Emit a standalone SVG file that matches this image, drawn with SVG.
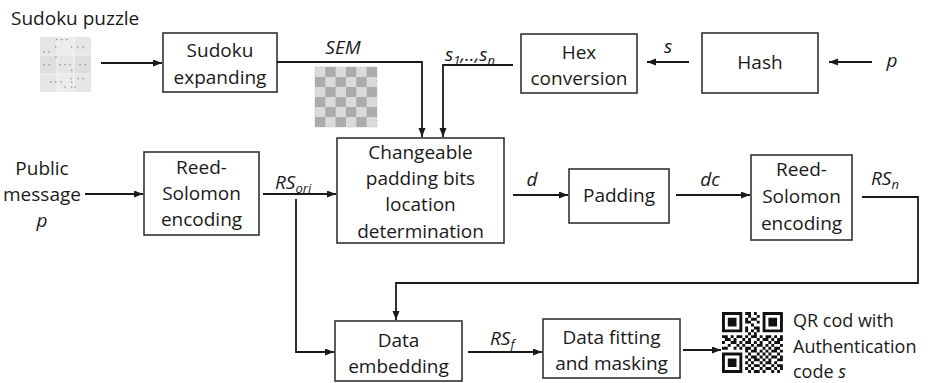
<svg xmlns="http://www.w3.org/2000/svg" width="937" height="383" viewBox="0 0 937 383">
  <style>
    text { font-family: "Open Sans", "Noto Sans", "Liberation Sans", sans-serif; font-size: 19px; fill: #1a1a1a; }
    .c { text-anchor: middle; }
    .i { font-style: italic; }
    .sub { font-size: 13px; }
    .qr-note { font-size: 18px; }
    .box { fill: #ffffff; stroke: #333333; stroke-width: 1.6; }
    .wire { fill: none; stroke: #1a1a1a; stroke-width: 1.8; marker-end: url(#arrow); }
  </style>
  <defs>
    <marker id="arrow" markerUnits="userSpaceOnUse" markerWidth="10" markerHeight="8" refX="9" refY="3.5" orient="auto">
      <path d="M0,0 L9,3.5 L0,7 z" fill="#1a1a1a"/>
    </marker>
    <path id="finder" d="M0,0h7v7h-7z M1,1v5h5v-5z M2,2h3v3h-3z" fill-rule="evenodd"/>
  </defs>

  <rect width="937" height="383" fill="#ffffff"/>

  <!-- Sudoku puzzle thumbnail -->
  <g id="sudoku-puzzle">
    <text x="11" y="25">Sudoku puzzle</text>
    <rect x="40" y="37" width="51" height="55" fill="#e6e6e6"/>
    <rect x="57" y="37" width="17" height="18" fill="#ececec"/>
    <rect x="40" y="55" width="17" height="19" fill="#dedede"/>
    <rect x="74" y="55" width="17" height="19" fill="#dedede"/>
    <rect x="57" y="74" width="17" height="18" fill="#ececec"/>
    <g stroke="#f4f4f4" stroke-width="1">
      <line x1="57" y1="37" x2="57" y2="92"/>
      <line x1="74" y1="37" x2="74" y2="92"/>
      <line x1="40" y1="55" x2="91" y2="55"/>
      <line x1="40" y1="74" x2="91" y2="74"/>
    </g>
    <g fill="#8c8c8c">
      <circle cx="56.7" cy="39.5" r="0.8"/><circle cx="61.7" cy="39.5" r="0.8"/><circle cx="66.7" cy="39.5" r="0.8"/>
      <circle cx="55.7" cy="47" r="0.8"/><circle cx="71.7" cy="47" r="0.8"/><circle cx="77.7" cy="47" r="0.8"/><circle cx="83.3" cy="47" r="0.8"/>
      <circle cx="44.3" cy="52" r="0.8"/><circle cx="49" cy="52" r="0.8"/>
      <circle cx="56" cy="57" r="0.8"/>
      <circle cx="44.3" cy="64.7" r="0.8"/><circle cx="49" cy="64.7" r="0.8"/>
      <circle cx="60" cy="64.7" r="0.8"/><circle cx="65" cy="64.7" r="0.8"/><circle cx="70" cy="64.7" r="0.8"/>
      <circle cx="80" cy="64.7" r="0.8"/><circle cx="85" cy="64.7" r="0.8"/>
      <circle cx="71.7" cy="70.3" r="0.8"/>
      <circle cx="71" cy="78.7" r="0.8"/><circle cx="78.3" cy="78.7" r="0.8"/><circle cx="83.3" cy="78.7" r="0.8"/>
      <circle cx="51" cy="82" r="0.8"/><circle cx="55.7" cy="82" r="0.8"/><circle cx="61" cy="82" r="0.8"/><circle cx="71.7" cy="82" r="0.8"/>
      <circle cx="65" cy="87" r="0.8"/><circle cx="71.7" cy="87" r="0.8"/><circle cx="75" cy="87" r="0.8"/>
    </g>
  </g>

  <!-- Expanded Sudoku matrix (SEM) thumbnail -->
  <g id="sem-matrix">
    <rect x="315" y="67" width="62" height="60" fill="#dadada" stroke="#bdbdbd" stroke-width="1" stroke-dasharray="1 1.5"/>
    <g fill="#ababab">
      <rect x="325.3" y="67" width="10.3" height="10"/><rect x="346" y="67" width="10.3" height="10"/><rect x="366.7" y="67" width="10.3" height="10"/>
      <rect x="315" y="77" width="10.3" height="10"/><rect x="335.6" y="77" width="10.3" height="10"/><rect x="356.3" y="77" width="10.3" height="10"/>
      <rect x="325.3" y="87" width="10.3" height="10"/><rect x="346" y="87" width="10.3" height="10"/><rect x="366.7" y="87" width="10.3" height="10"/>
      <rect x="315" y="97" width="10.3" height="10"/><rect x="335.6" y="97" width="10.3" height="10"/><rect x="356.3" y="97" width="10.3" height="10"/>
      <rect x="325.3" y="107" width="10.3" height="10"/><rect x="346" y="107" width="10.3" height="10"/><rect x="366.7" y="107" width="10.3" height="10"/>
      <rect x="315" y="117" width="10.3" height="10"/><rect x="335.6" y="117" width="10.3" height="10"/><rect x="356.3" y="117" width="10.3" height="10"/>
    </g>
  </g>

  <!-- Process blocks -->
  <g id="sudoku-expanding">
    <rect class="box" x="163" y="33" width="114" height="59"/>
    <text class="c" x="220" y="57">Sudoku</text>
    <text class="c" x="220" y="84">expanding</text>
  </g>

  <g id="hex-conversion">
    <rect class="box" x="521" y="34" width="116" height="59"/>
    <text class="c" x="579" y="59">Hex</text>
    <text class="c" x="579" y="85">conversion</text>
  </g>

  <g id="hash">
    <rect class="box" x="702" y="33" width="116" height="60"/>
    <text class="c" x="760" y="69">Hash</text>
  </g>

  <g id="public-message">
    <text class="c" x="42" y="175">Public</text>
    <text class="c" x="42" y="201">message</text>
    <text class="c i" x="42" y="227">p</text>
  </g>

  <g id="reed-solomon-1">
    <rect class="box" x="144" y="152" width="115" height="83"/>
    <text class="c" x="201.5" y="174">Reed-</text>
    <text class="c" x="201.5" y="200">Solomon</text>
    <text class="c" x="201.5" y="226">encoding</text>
  </g>

  <g id="changeable-padding">
    <rect class="box" x="337" y="138" width="167" height="105"/>
    <text class="c" x="420.5" y="159">Changeable</text>
    <text class="c" x="420.5" y="185">padding bits</text>
    <text class="c" x="420.5" y="211">location</text>
    <text class="c" x="420.5" y="238">determination</text>
  </g>

  <g id="padding">
    <rect class="box" x="569" y="169" width="100" height="54"/>
    <text class="c" x="619" y="202">Padding</text>
  </g>

  <g id="reed-solomon-2">
    <rect class="box" x="751" y="155" width="101" height="85"/>
    <text class="c" x="801.5" y="176">Reed-</text>
    <text class="c" x="801.5" y="203">Solomon</text>
    <text class="c" x="801.5" y="230">encoding</text>
  </g>

  <g id="data-embedding">
    <rect class="box" x="335" y="321" width="127" height="60"/>
    <text class="c" x="398.5" y="347">Data</text>
    <text class="c" x="398.5" y="373">embedding</text>
  </g>

  <g id="data-fitting">
    <rect class="box" x="543" y="319" width="137" height="59"/>
    <text class="c" x="611.5" y="344">Data fitting</text>
    <text class="c" x="611.5" y="370">and masking</text>
  </g>

  <g id="qr-output">
    <g transform="translate(722,312) scale(2.9)" fill="#111111">
      <use href="#finder"/>
      <use href="#finder" x="14"/>
      <use href="#finder" y="14"/>
      <path d="M8,0h2v1h-2z M11,0h1v1h-1z M9,1h1v1h-1z M12,1h1v1h-1z M8,2h1v1h-1z M10,2h2v1h-2z M8,3h2v1h-2z M12,3h1v1h-1z M10,4h1v1h-1z M8,5h1v1h-1z M11,5h2v1h-2z M8,6h1v1h-1z M10,6h1v1h-1z M12,6h1v1h-1z M9,7h1v1h-1z M11,7h1v1h-1z
        M0,8h2v1h-2z M3,8h1v1h-1z M5,8h2v1h-2z M8,8h1v1h-1z M10,8h2v1h-2z M13,8h1v1h-1z M15,8h2v1h-2z M18,8h1v1h-1z M20,8h1v1h-1z
        M1,9h2v1h-2z M4,9h1v1h-1z M7,9h1v1h-1z M9,9h1v1h-1z M12,9h1v1h-1z M14,9h2v1h-2z M17,9h1v1h-1z M19,9h2v1h-2z
        M0,10h1v1h-1z M3,10h2v1h-2z M6,10h1v1h-1z M8,10h2v1h-2z M11,10h1v1h-1z M13,10h1v1h-1z M16,10h1v1h-1z M18,10h2v1h-2z
        M2,11h1v1h-1z M5,11h1v1h-1z M7,11h1v1h-1z M10,11h1v1h-1z M12,11h2v1h-2z M15,11h1v1h-1z M17,11h1v1h-1z M20,11h1v1h-1z
        M0,12h2v1h-2z M4,12h1v1h-1z M6,12h1v1h-1z M8,12h2v1h-2z M11,12h1v1h-1z M14,12h1v1h-1z M16,12h1v1h-1z M18,12h2v1h-2z
        M8,13h1v1h-1z M10,13h2v1h-2z M13,13h1v1h-1z M15,13h1v1h-1z M17,13h2v1h-2z M20,13h1v1h-1z
        M9,14h1v1h-1z M12,14h1v1h-1z M14,14h1v1h-1z M16,14h1v1h-1z M19,14h1v1h-1z
        M8,15h1v1h-1z M10,15h2v1h-2z M13,15h1v1h-1z M15,15h1v1h-1z M17,15h2v1h-2z M20,15h1v1h-1z
        M9,16h1v1h-1z M11,16h2v1h-2z M14,16h1v1h-1z M16,16h1v1h-1z M19,16h2v1h-2z
        M8,17h1v1h-1z M10,17h1v1h-1z M13,17h1v1h-1z M15,17h2v1h-2z M18,17h1v1h-1z
        M9,18h1v1h-1z M11,18h2v1h-2z M14,18h1v1h-1z M17,18h1v1h-1z M19,18h2v1h-2z
        M8,19h1v1h-1z M10,19h1v1h-1z M13,19h1v1h-1z M15,19h2v1h-2z M18,19h1v1h-1z M20,19h1v1h-1z
        M9,20h1v1h-1z M11,20h2v1h-2z M14,20h1v1h-1z M17,20h1v1h-1z M19,20h1v1h-1z"/>
    </g>
    <text class="qr-note" x="793" y="327">QR cod with</text>
    <text class="qr-note" x="793" y="353">Authentication</text>
    <text class="qr-note" x="793" y="378">code <tspan class="i">s</tspan></text>
  </g>

  <!-- Connectors -->
  <g id="connectors">
    <path class="wire" d="M101,63 H162"/>
    <path class="wire" d="M277,62 H422 V137"/>
    <path class="wire" d="M513,65 H443 V137"/>
    <path class="wire" d="M689,62 H647"/>
    <path class="wire" d="M872,62 H829"/>
    <path class="wire" d="M85,194 H143"/>
    <path class="wire" d="M263,194 H336"/>
    <path class="wire" d="M296,199 V352 H334"/>
    <path class="wire" d="M513,195 H568"/>
    <path class="wire" d="M676,195 H750"/>
    <path class="wire" d="M862,197 H918 V283 H396 V320"/>
    <path class="wire" d="M468,352 H542"/>
    <path class="wire" d="M683,350 H721"/>

    <!-- Connector labels -->
    <text class="c i" x="343" y="54">SEM</text>
    <text class="i" x="445" y="61">s<tspan class="sub" dy="4">1</tspan><tspan dy="-4">,..,s</tspan><tspan class="sub" dy="4">n</tspan></text>
    <text class="c i" x="668" y="53">s</text>
    <text class="c i" x="892" y="67">p</text>
    <text class="i" x="275" y="189">RS<tspan class="sub" dy="4">ori</tspan></text>
    <text class="c i" x="532" y="186">d</text>
    <text class="c i" x="710" y="186">dc</text>
    <text class="i" x="871" y="185">RS<tspan class="sub" dy="4">n</tspan></text>
    <text class="i" x="490" y="345">RS<tspan class="sub" dy="4">f</tspan></text>
  </g>
</svg>
